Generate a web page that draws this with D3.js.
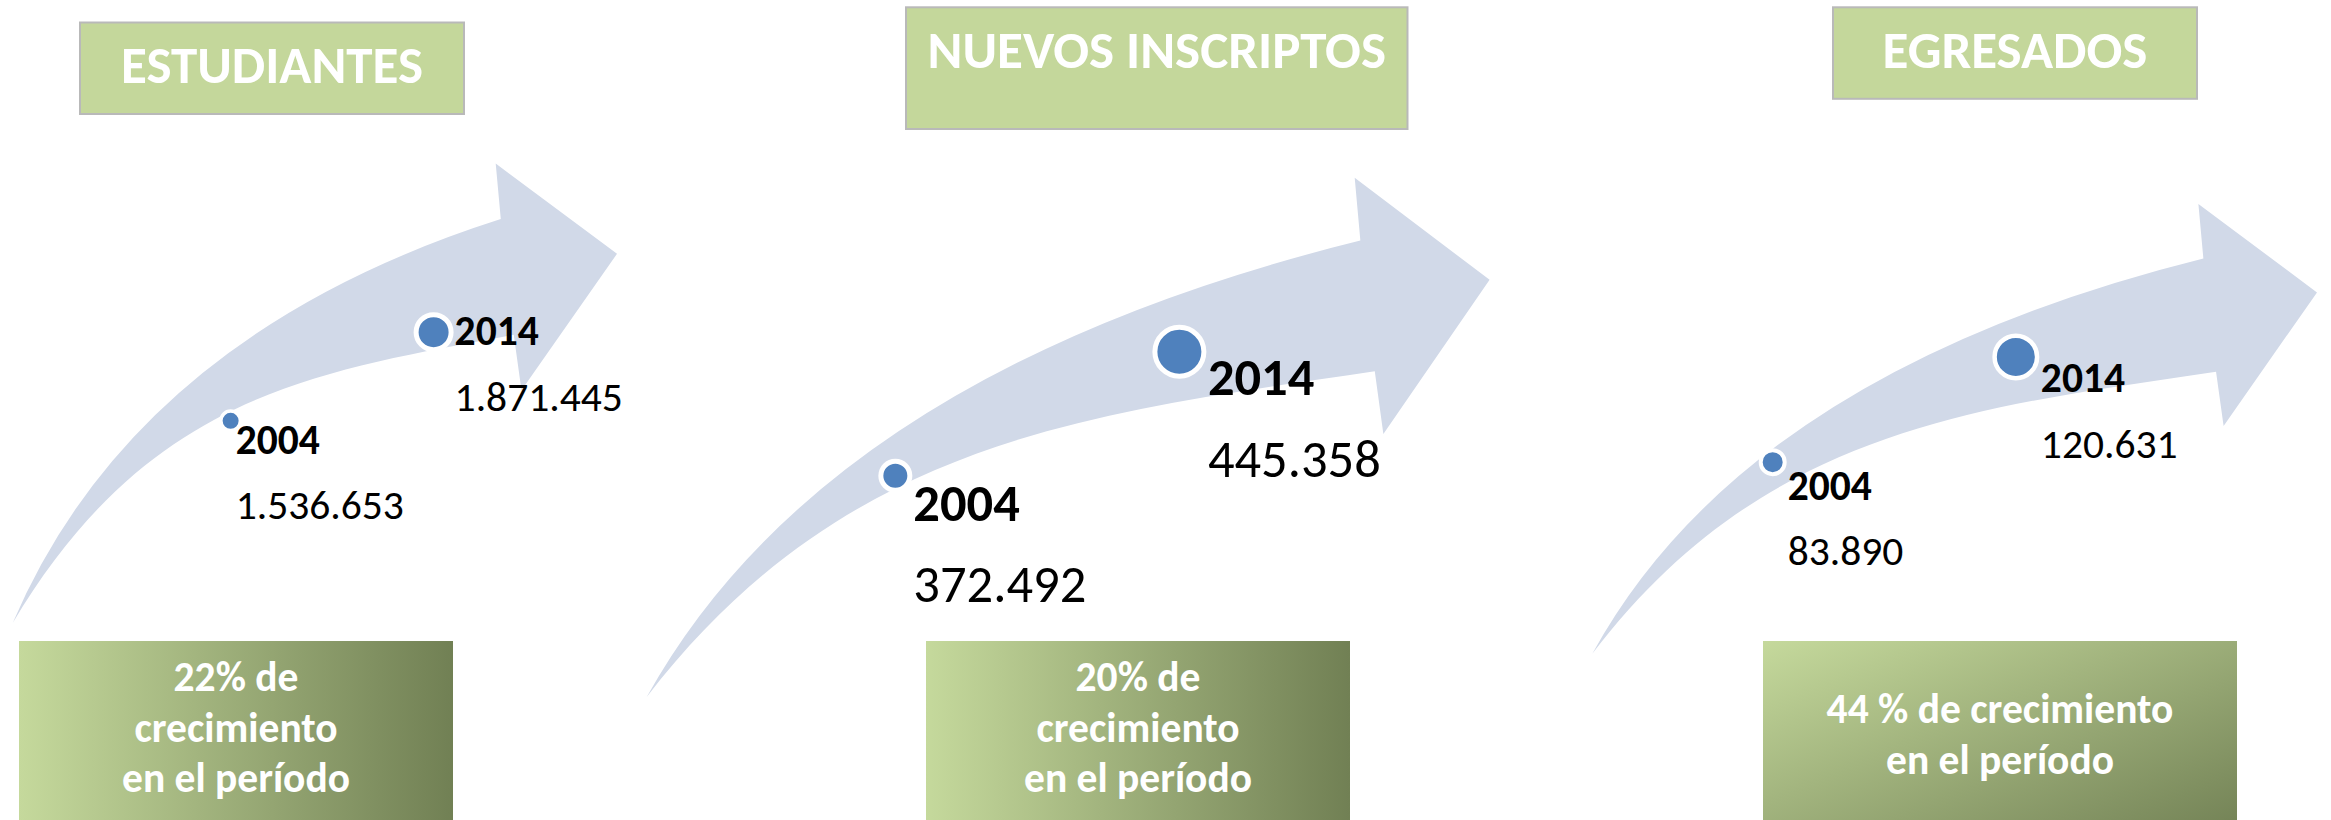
<!DOCTYPE html>
<html lang="es">
<head>
<meta charset="utf-8">
<title>Estudiantes, nuevos inscriptos y egresados 2004-2014</title>
<script src="https://cdn.jsdelivr.net/npm/d3@7"></script>
<style>
  body { margin: 0; background: #fff; }
  svg { display: block; font-family: Calibri, Carlito, Lato, sans-serif; }
  .head rect { fill: #c4d79b; stroke: #b9b9b9; stroke-width: 2; }
  .head text { fill: #fff; font-weight: bold; font-size: 53px; text-anchor: middle; }
  .arrow { fill: #d1d9e8; }
  .dot { fill: #4f81bd; stroke: #fff; }
  .year { font-weight: bold; fill: #000; }
  .value { fill: #000; }
  .growth text { fill: #fff; font-weight: bold; font-size: 41.5px; text-anchor: middle; }
</style>
</head>
<body>
<script>
// data
const panels = ["ESTUDIANTES", "NUEVOS INSCRIPTOS", "EGRESADOS"];
const years = ["2004", "2014"];
const values2004 = [1536653, 372492, 83890];
const values2014 = [1871445, 445358, 120631];
const growthLabels = [
  "22% de\ncrecimiento\nen el período",
  "20% de\ncrecimiento\nen el período",
  "44 % de crecimiento\nen el período"
];

// layout of each panel (pixels / arrow-relative positions)
const layout = [
  { head: {x: 80, y: 22.5, w: 384, h: 91.5, base: 82.6},
    arrow: {x: [12.7, 495.7, 617], y: [163.5, 623]},
    font: 41.5,
    dots: [{u: .379, v: .560, r: 8, ring: 3.5, dx: 5, dyYear: 33, dyVal: 98},
           {u: .732, v: .367, r: 15, ring: 5, dx: 21, dyYear: 13, dyVal: 78.5}],
    box: {x: 19, y: 641, w: 434, grad: "gradH", base: 691} },
  { head: {x: 906, y: 7.3, w: 501.5, h: 121.7, base: 68},
    arrow: {x: [646.7, 1354.7, 1489.6], y: [177.8, 697]},
    font: 52.5,
    dots: [{u: .295, v: .574, r: 12, ring: 5, dx: 18, dyYear: 45, dyVal: 126},
           {u: .632, v: .335, r: 22, ring: 5, dx: 28.5, dyYear: 43.5, dyVal: 125.5}],
    box: {x: 926, y: 641, w: 424, grad: "gradH", base: 691} },
  { head: {x: 1833, y: 7.3, w: 364, h: 91.5, base: 68},
    arrow: {x: [1592.3, 2198.4, 2317], y: [204, 653.8]},
    font: 41.5,
    dots: [{u: .250, v: .574, r: 10, ring: 4, dx: 15, dyYear: 37.5, dyVal: 103},
           {u: .587, v: .340, r: 19, ring: 4.5, dx: 25, dyYear: 35.3, dyVal: 101}],
    box: {x: 1763, y: 641, w: 474, grad: "gradD", base: 723} }
];

// curved arrow outline, in arrow-relative units (u: 0 tail .. .84 head .. 1 tip)
const shape = {
  tail: [0, 1], upCtrl: [.2139, .374], upEnd: [.8467, .121],
  barbUp: [.84, 0], tip: [1, .1965], barbLow: [.874, .4935],
  lowEnd: [.8638, .3727], lowC2: [.5316, .4524], lowC1: [.2373, .4992]
};

const width = 2331, height = 820;
const fmt = d3.formatLocale({decimal: ",", thousands: ".", grouping: [3], currency: ["$", ""]}).format(",d");

const svg = d3.select("body").append("svg")
  .attr("width", width)
  .attr("height", height);

const defs = svg.append("defs");
[["gradH", 1, 0], ["gradD", 1, 1]].forEach(function(g){
  const lg = defs.append("linearGradient")
    .attr("id", g[0])
    .attr("x1", 0).attr("y1", 0)
    .attr("x2", g[1]).attr("y2", g[2]);
  lg.append("stop").attr("offset", 0).attr("stop-color", "#c5d99c");
  lg.append("stop").attr("offset", 1).attr("stop-color", "#718054");
});

panels.forEach(function(name, i){
  const L = layout[i];
  const g = svg.append("g");

  // header box
  const head = g.append("g").attr("class", "head");
  head.append("rect")
    .attr("x", L.head.x).attr("y", L.head.y)
    .attr("width", L.head.w).attr("height", L.head.h);
  head.append("text")
    .attr("x", L.head.x + L.head.w / 2)
    .attr("y", L.head.base)
    .text(name);

  // arrow
  const x = d3.scaleLinear().domain([0, .84, 1]).range(L.arrow.x);
  const y = d3.scaleLinear().domain([0, 1]).range(L.arrow.y);
  const pt = function(k){ return [x(shape[k][0]), y(shape[k][1])]; };

  const p = d3.path();
  p.moveTo(...pt("tail"));
  p.quadraticCurveTo(...pt("upCtrl"), ...pt("upEnd"));
  p.lineTo(...pt("barbUp"));
  p.lineTo(...pt("tip"));
  p.lineTo(...pt("barbLow"));
  p.lineTo(...pt("lowEnd"));
  p.bezierCurveTo(...pt("lowC2"), ...pt("lowC1"), ...pt("tail"));
  p.closePath();

  g.append("path")
    .attr("class", "arrow")
    .attr("d", p.toString());

  // points 2004 / 2014
  const pts = years.map(function(yr, j){
    return {year: yr, value: j === 0 ? values2004[i] : values2014[i], pos: L.dots[j]};
  });

  g.selectAll("circle")
    .data(pts)
    .enter()
    .append("circle")
    .attr("class", "dot")
    .attr("cx", function(d){ return x(d.pos.u); })
    .attr("cy", function(d){ return y(d.pos.v); })
    .attr("r", function(d){ return d.pos.r + d.pos.ring / 2; })
    .attr("stroke-width", function(d){ return d.pos.ring; });

  g.selectAll("text.year")
    .data(pts)
    .enter()
    .append("text")
    .attr("class", "year")
    .attr("x", function(d){ return x(d.pos.u) + d.pos.dx; })
    .attr("y", function(d){ return y(d.pos.v) + d.pos.dyYear; })
    .style("font-size", L.font + "px")
    .text(function(d){ return d.year; });

  g.selectAll("text.value")
    .data(pts)
    .enter()
    .append("text")
    .attr("class", "value")
    .attr("x", function(d){ return x(d.pos.u) + d.pos.dx; })
    .attr("y", function(d){ return y(d.pos.v) + d.pos.dyVal; })
    .style("font-size", L.font + "px")
    .text(function(d){ return fmt(d.value); });

  // growth box
  const box = g.append("g").attr("class", "growth");
  box.append("rect")
    .attr("x", L.box.x).attr("y", L.box.y)
    .attr("width", L.box.w).attr("height", height - L.box.y + 20)
    .attr("fill", "url(#" + L.box.grad + ")");
  box.selectAll("text")
    .data(growthLabels[i].split("\n"))
    .enter()
    .append("text")
    .attr("x", L.box.x + L.box.w / 2)
    .attr("y", function(d, k){ return L.box.base + k * 50.5; })
    .text(function(d){ return d; });
});
</script>
</body>
</html>
